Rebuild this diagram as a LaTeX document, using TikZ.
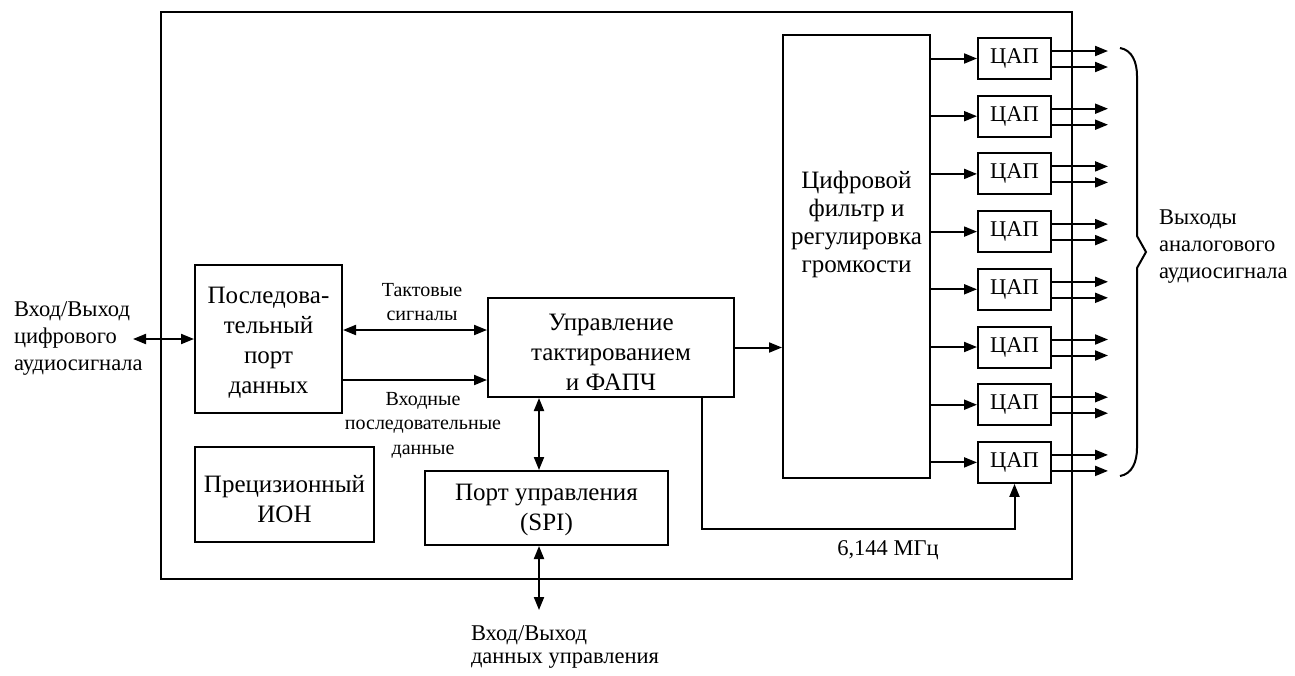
\documentclass[tikz,border=0pt]{standalone}
\usepackage{fontspec}
\setmainfont{Liberation Serif}
\usetikzlibrary{arrows.meta}
\begin{document}
\begin{tikzpicture}[x=1pt,y=-1pt, line width=2pt,
  >={Triangle[length=13pt,width=10pt]},
  blk/.style={draw, rectangle, inner sep=0pt, align=center, font=\fontsize{25}{31}\selectfont},
  dacbox/.style={draw, rectangle, inner sep=0pt, minimum width=73pt, minimum height=41pt, font=\fontsize{22.5}{27}\selectfont},
  txt/.style={inner sep=0pt, align=center, font=\fontsize{25}{30}\selectfont},
  lbl/.style={inner sep=0pt, align=center, font=\fontsize{20}{24.5}\selectfont},
  olbl/.style={inner sep=0pt, align=left, font=\fontsize{22.5}{27}\selectfont}]
\useasboundingbox (0,0) rectangle (1295,675);

% outer chip
\node[draw, rectangle, inner sep=0pt, minimum width=911pt, minimum height=567pt] (chip) at (616.5,295.5) {};

% blocks
\node[blk, minimum width=147pt, minimum height=148pt] (sdp) at (268.5,339) {};
\node[txt] (sdpT) at (268.5,343) {Последова-\\тельный\\порт\\данных};
\node[blk, minimum width=179pt, minimum height=95pt] (ion) at (284.5,494) {};
\node[txt] (ionT) at (284.5,499) {Прецизионный\\ИОН};
\node[blk, minimum width=246pt, minimum height=99pt] (clk) at (611,347.5) {};
\node[txt] (clkT) at (611,352) {Управление\\тактированием\\и ФАПЧ};
\node[blk, minimum width=243pt, minimum height=74pt] (spi) at (546.5,508) {};
\node[txt] (spiT) at (546.5,510) {Порт управления\\(SPI)};
\node[blk, minimum width=147pt, minimum height=443pt] (flt) at (856.5,256.5) {};
\node[txt, font=\fontsize{25}{28}\selectfont] (fltT) at (856.5,224) {Цифровой\\фильтр и\\регулировка\\громкости};

% DACs
\foreach \i in {1,...,8} {
  \pgfmathsetmacro\yc{58.5+57.7*(\i-1)}
  \node[dacbox] (d\i) at (1014.5,\yc) {ЦАП};
  \coordinate (oa\i) at (1108,\yc-7.5);
  \coordinate (ob\i) at (1108,\yc+8.5);
  \draw[->] (flt.east |- d\i) -- (d\i.west);
  \draw[->] (d\i.east |- oa\i) -- (oa\i);
  \draw[->] (d\i.east |- ob\i) -- (ob\i);
}

% left I/O
\node[olbl, anchor=west] (inL) at (13,339) {Вход/Выход\\цифрового\\аудиосигнала};
\coordinate (ioL) at (133,339);
\draw[<->] (ioL) -- (sdp.west |- ioL);

% sdp <-> clk
\coordinate (tk) at (0,330);
\coordinate (dd) at (0,380);
\draw[<->] (sdp.east |- tk) -- (clk.west |- tk);
\draw[->] (sdp.east |- dd) -- (clk.west |- dd);
\node[lbl] (tkL) at (422,302) {Тактовые\\сигналы};
\node[lbl] (ddL) at (423,425) {Входные\\последовательные\\данные};

% clk -> filter
\draw[->] (clk.east) -- (flt.west |- clk.east);

% clk <-> spi
\coordinate (sx) at (539,0);
\draw[<->] (clk.south -| sx) -- (spi.north -| sx);
\coordinate (ctlio) at (539,610);
\draw[<->] (spi.south -| sx) -- (ctlio);
\node[olbl, anchor=north west, font=\fontsize{22.5}{23}\selectfont] (ctlL) at (470,625) {Вход/Выход\\данных управления};

% clock to last DAC
\coordinate (c1) at (702,529);
\draw[->] (clk.south -| c1) -- (c1) -- (c1 -| d8.south) -- (d8.south);
\node[olbl] (freq) at (888,550) {6,144 МГц};

% brace
\draw (1120,48) .. controls (1132,50) and (1137,62) .. (1137,76)
  -- (1137,236) -- (1146,252) -- (1137,268) -- (1137,448)
  .. controls (1137,462) and (1132,474) .. (1120,476);
\node[olbl, anchor=west] (outL) at (1158,247) {Выходы\\аналогового\\аудиосигнала};
\end{tikzpicture}
\end{document}
